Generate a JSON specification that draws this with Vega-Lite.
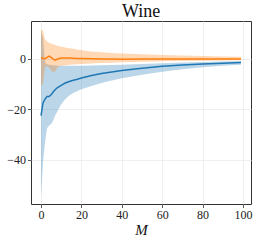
{
  "$schema": "https://vega.github.io/schema/vega-lite/v6.json",
  "autosize": {"type": "none"},
  "padding": {"left": 31, "top": 21, "right": 7, "bottom": 38},
  "width": 220,
  "height": 183,
  "title": {"text": "Wine", "font": "Liberation Serif", "fontSize": 18, "fontWeight": "normal", "color": "#111", "baseline": "alphabetic", "offset": 4, "anchor": "middle", "dy": 18},
  "data": {"values": [
    {"M":0,"s":"a","mean":-22.5,"lo":-54.5,"hi":10.5},
    {"M":1,"s":"a","mean":-17.5,"lo":-41,"hi":8.5},
    {"M":2,"s":"a","mean":-16,"lo":-33,"hi":-1.5},
    {"M":3,"s":"a","mean":-15,"lo":-27.5,"hi":-2.2},
    {"M":4,"s":"a","mean":-15,"lo":-26.5,"hi":-2.4},
    {"M":5,"s":"a","mean":-14.3,"lo":-26,"hi":-2.5},
    {"M":6,"s":"a","mean":-13.2,"lo":-24.5,"hi":-2.6},
    {"M":7,"s":"a","mean":-12.3,"lo":-22.5,"hi":-2.7},
    {"M":8,"s":"a","mean":-11.5,"lo":-21,"hi":-2.8},
    {"M":9,"s":"a","mean":-11,"lo":-19.5,"hi":-2.8},
    {"M":10,"s":"a","mean":-10.5,"lo":-18,"hi":-2.8},
    {"M":12,"s":"a","mean":-9.6,"lo":-16,"hi":-2.8},
    {"M":14,"s":"a","mean":-9.0,"lo":-14.6,"hi":-2.8},
    {"M":16,"s":"a","mean":-8.5,"lo":-13.6,"hi":-2.8},
    {"M":18,"s":"a","mean":-8.1,"lo":-12.8,"hi":-2.8},
    {"M":20,"s":"a","mean":-7.6,"lo":-12.1,"hi":-2.8},
    {"M":25,"s":"a","mean":-6.6,"lo":-10.8,"hi":-2.7},
    {"M":30,"s":"a","mean":-5.8,"lo":-9.6,"hi":-2.6},
    {"M":35,"s":"a","mean":-5.2,"lo":-8.6,"hi":-2.5},
    {"M":40,"s":"a","mean":-4.6,"lo":-7.7,"hi":-2.4},
    {"M":50,"s":"a","mean":-3.7,"lo":-6.3,"hi":-2.1},
    {"M":60,"s":"a","mean":-3.0,"lo":-5.1,"hi":-1.8},
    {"M":70,"s":"a","mean":-2.5,"lo":-4.1,"hi":-1.5},
    {"M":80,"s":"a","mean":-2.1,"lo":-3.3,"hi":-1.25},
    {"M":90,"s":"a","mean":-1.75,"lo":-2.8,"hi":-1.05},
    {"M":99,"s":"a","mean":-1.5,"lo":-2.4,"hi":-0.9},
    {"M":0,"s":"b","mean":0.5,"lo":-10.7,"hi":11.6},
    {"M":1,"s":"b","mean":0.2,"lo":-10,"hi":11.2},
    {"M":2,"s":"b","mean":0,"lo":-3.2,"hi":7.8},
    {"M":3,"s":"b","mean":0.6,"lo":-3.0,"hi":6.9},
    {"M":4,"s":"b","mean":1.1,"lo":-3.5,"hi":6.4},
    {"M":5,"s":"b","mean":0.6,"lo":-4.5,"hi":6.1},
    {"M":6,"s":"b","mean":-0.1,"lo":-5.3,"hi":5.8},
    {"M":7,"s":"b","mean":-0.5,"lo":-5.0,"hi":5.5},
    {"M":8,"s":"b","mean":-0.2,"lo":-3.6,"hi":5.2},
    {"M":9,"s":"b","mean":0.1,"lo":-3.0,"hi":5.0},
    {"M":10,"s":"b","mean":0.3,"lo":-2.8,"hi":4.8},
    {"M":12,"s":"b","mean":0.3,"lo":-2.6,"hi":4.5},
    {"M":14,"s":"b","mean":0.3,"lo":-2.4,"hi":4.2},
    {"M":16,"s":"b","mean":0.2,"lo":-2.3,"hi":4.0},
    {"M":18,"s":"b","mean":0.1,"lo":-2.2,"hi":3.7},
    {"M":20,"s":"b","mean":0.1,"lo":-2.1,"hi":3.4},
    {"M":25,"s":"b","mean":0.0,"lo":-1.9,"hi":2.9},
    {"M":30,"s":"b","mean":-0.1,"lo":-1.7,"hi":2.6},
    {"M":35,"s":"b","mean":-0.1,"lo":-1.55,"hi":2.3},
    {"M":40,"s":"b","mean":-0.2,"lo":-1.4,"hi":2.1},
    {"M":50,"s":"b","mean":-0.1,"lo":-1.2,"hi":1.8},
    {"M":60,"s":"b","mean":-0.1,"lo":-1.0,"hi":1.5},
    {"M":70,"s":"b","mean":-0.1,"lo":-0.9,"hi":1.3},
    {"M":80,"s":"b","mean":-0.1,"lo":-0.8,"hi":1.1},
    {"M":90,"s":"b","mean":-0.1,"lo":-0.7,"hi":0.9},
    {"M":99,"s":"b","mean":-0.1,"lo":-0.6,"hi":0.8}
  ]},
  "encoding": {
    "x": {"field": "M", "type": "quantitative",
          "scale": {"domain": [-4.95, 103.95], "nice": false, "zero": false},
          "axis": {"values": [0,20,40,60,80,100], "title": "M", "titleFontStyle": "italic", "titleFontSize": 15, "titlePadding": 2}},
    "color": {"field": "s", "type": "nominal", "scale": {"domain": ["a","b"], "range": ["#1f77b4","#ff7f0e"]}, "legend": null}
  },
  "layer": [
    {"mark": {"type": "area", "opacity": 0.3, "interpolate": "linear"},
     "encoding": {
       "y": {"field": "lo", "type": "quantitative",
             "scale": {"domain": [-57.6, 15], "nice": false, "zero": false},
             "axis": {"values": [-40,-20,0], "title": null, "labelExpr": "replace(datum.label, '-', '\u2212')"}},
       "y2": {"field": "hi"}
     }},
    {"mark": {"type": "line", "strokeWidth": 1.5},
     "encoding": {"y": {"field": "mean", "type": "quantitative"}}}
  ],
  "config": {
    "font": "Liberation Serif",
    "view": {"stroke": "#333", "strokeWidth": 1},
    "axis": {
      "domain": false,
      "grid": true,
      "gridColor": "#ebebeb",
      "gridWidth": 0.8,
      "ticks": true,
      "tickSize": 3.5,
      "tickColor": "#333",
      "tickWidth": 0.8,
      "labelFont": "Liberation Serif",
      "labelFontSize": 12,
      "labelColor": "#222",
      "labelPadding": 2,
      "titleFont": "Liberation Serif",
      "titleFontWeight": "normal",
      "titleColor": "#111"
    }
  }
}
